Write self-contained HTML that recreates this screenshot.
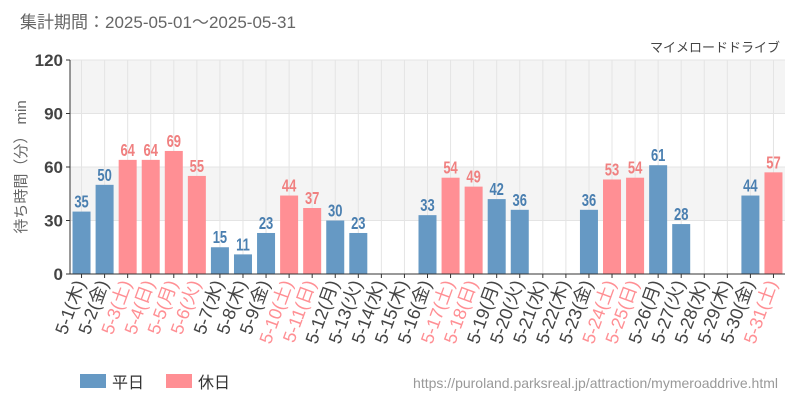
<!DOCTYPE html>
<html><head><meta charset="utf-8"><style>
body{margin:0;background:#fff;width:800px;height:400px;overflow:hidden;font-family:"Liberation Sans","Noto Sans CJK JP",sans-serif}
</style></head><body>
<svg id="c" width="800" height="400" xmlns="http://www.w3.org/2000/svg" font-family="'Liberation Sans','Noto Sans CJK JP',sans-serif">
<text x="20" y="28" font-size="17" fill="#666">集計期間：2025-05-01～2025-05-31</text>
<text x="780" y="52" font-size="13" fill="#444" text-anchor="end">マイメロードドライブ</text>
<text transform="translate(26,167) rotate(-90)" font-size="15" fill="#666" text-anchor="middle">待ち時間（分） min</text>
<g id="plot"></g>
<rect x="80" y="374" width="26" height="14" fill="#6699c4"/>
<text x="112" y="388" font-size="16" fill="#333">平日</text>
<rect x="166" y="374" width="26" height="14" fill="#ff8f94"/>
<text x="198" y="388" font-size="16" fill="#333">休日</text>
<text x="778" y="388" font-size="14" fill="#999" text-anchor="end">https://puroland.parksreal.jp/attraction/mymeroaddrive.html</text>
</svg>
<script>
const days=["5-1","5-2","5-3","5-4","5-5","5-6","5-7","5-8","5-9","5-10","5-11","5-12","5-13","5-14","5-15","5-16","5-17","5-18","5-19","5-20","5-21","5-22","5-23","5-24","5-25","5-26","5-27","5-28","5-29","5-30","5-31"];
const weekdays=["木","金","土","日","月","火","水","木","金","土","日","月","火","水","木","金","土","日","月","火","水","木","金","土","日","月","火","水","木","金","土"];
const holidays=[0,0,1,1,1,1,0,0,0,1,1,0,0,0,0,0,1,1,0,0,0,0,0,1,1,0,0,0,0,0,1];
const waits=[35,50,64,64,69,55,15,11,23,44,37,30,23,null,null,33,54,49,42,36,null,null,36,53,54,61,28,null,null,44,57];
const yTicks=[0,30,60,90,120];
const X0=70,X1=785,Y0=274,Y1=60,slot=(X1-X0)/days.length;
const xc=i=>X0+slot*(i+0.5);
const y=v=>Y0-(v/120)*(Y0-Y1);
const g=document.getElementById('plot');
const NS="http://www.w3.org/2000/svg";
function mk(t,a){const e=document.createElementNS(NS,t);for(const k in a)e.setAttribute(k,a[k]);g.appendChild(e);return e;}
for(let k=0;k<yTicks.length-1;k+=2){
 const b=mk('rect',{x:X0,y:y(yTicks[k+2]||120),width:X1-X0,height:y(yTicks[k+1])-y(yTicks[k+2]||120),fill:'#f4f4f4'});
 
 
}
yTicks.forEach(t=>{
 const l=mk('line',{x1:X0,x2:X1,y1:y(t),y2:y(t),stroke:'#e4e4e4'});
 
 
 const tk=mk('line',{x1:X0-4,x2:X0,y1:y(t),y2:y(t),stroke:'#333'});
 
 
 const tx=mk('text',{x:X0-7,y:y(t)+6,'font-size':17,'font-weight':'bold',fill:'#444','text-anchor':'end'});
 tx.textContent=t;
 
 
});
days.forEach((d,i)=>{
 const l=mk('line',{x1:xc(i),x2:xc(i),y1:Y1,y2:Y0,stroke:'#e4e4e4'});
 
 
});
days.forEach((d,i)=>{
 const col=holidays[i]?'#ff8f94':'#6699c4',tcol=holidays[i]?'#f08080':'#4a7fb0';
 const v=waits[i];
 if(v!=null){
  const r=mk('rect',{x:xc(i)-9,y:y(v),width:18,height:Y0-y(v),fill:col});
  
  
  const ty=y(v)-4;
  const t=mk('text',{x:xc(i),y:ty,'font-size':18,'font-weight':'bold',fill:tcol,'text-anchor':'middle',transform:`translate(${xc(i)},${ty}) scale(0.72,1) translate(${-xc(i)},${-ty})`});
  t.textContent=v;
  
  
 }
 const tk=mk('line',{x1:xc(i),x2:xc(i),y1:Y0,y2:Y0+4,stroke:'#333'});
 
 
 const lt=mk('text',{transform:`translate(${xc(i)+4},${Y0+9}) rotate(-70)`,'font-size':18,fill:holidays[i]?'#ff8f94':'#444','text-anchor':'end'});
 lt.textContent=d+'('+weekdays[i]+')';
 
 
});
const ax=mk('line',{x1:X0,x2:X0,y1:Y1,y2:Y0,stroke:'#333'});


const bx=mk('line',{x1:X0,x2:X1,y1:Y0,y2:Y0,stroke:'#333'});


</script>
</body></html>
